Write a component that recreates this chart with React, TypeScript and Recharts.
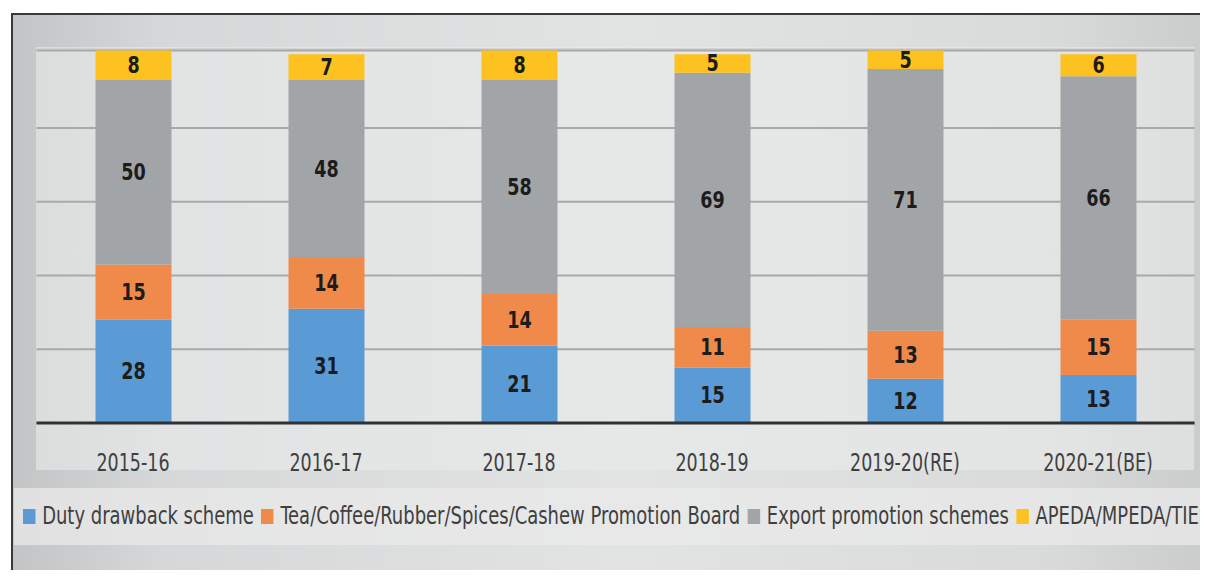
import {
  BarChart,
  Bar,
  XAxis,
  YAxis,
  CartesianGrid,
  LabelList,
  Legend,
} from "recharts";

const YEARS = ["2015-16", "2016-17", "2017-18", "2018-19", "2019-20(RE)", "2020-21(BE)"];
const DUTY_DRAWBACK = [28, 31, 21, 15, 12, 13];
const COMMODITY_BOARDS = [15, 14, 14, 11, 13, 15];
const EXPORT_PROMOTION = [50, 48, 58, 69, 71, 66];
const APEDA_ETC = [8, 7, 8, 5, 5, 6];

const SERIES = [
  { key: "duty", name: "Duty drawback scheme", color: "#5b9bd5" },
  { key: "boards", name: "Tea/Coffee/Rubber/Spices/Cashew Promotion Board", color: "#f08a4b" },
  { key: "epc", name: "Export promotion schemes", color: "#a2a5a7" },
  { key: "apeda", name: "APEDA/MPEDA/TIES", color: "#fdc21f" },
];

const data = YEARS.map((year, i) => ({
  year,
  duty: DUTY_DRAWBACK[i],
  boards: COMMODITY_BOARDS[i],
  epc: EXPORT_PROMOTION[i],
  apeda: APEDA_ETC[i],
}));

const FONT = '"DejaVu Sans Condensed", "Liberation Sans Narrow", "Open Sans", sans-serif';
const SQUEEZE = 0.81; // narrow the font so it reads like the original's Calibri

function YearTick({ x, y, payload }: any) {
  return (
    <text
      transform={`translate(${x},${y + 48}) scale(${SQUEEZE},1)`}
      textAnchor="middle"
      fontSize={24}
      fill="#404040"
      fontFamily={FONT}
    >
      {payload.value}
    </text>
  );
}

function ValueLabel({ x, y, width, height, value }: any) {
  const cx = Number(x) + Number(width) / 2;
  const cy = Number(y) + Number(height) / 2;
  return (
    <text
      transform={`translate(${cx},${cy + 8}) scale(0.85,1)`}
      textAnchor="middle"
      fontSize={23}
      fontWeight="bold"
      fill="#1c1c1c"
      fontFamily={FONT}
    >
      {value}
    </text>
  );
}

function LegendRow() {
  return (
    <div
      style={{
        display: "flex",
        alignItems: "center",
        whiteSpace: "nowrap",
        fontFamily: FONT,
        fontSize: 24,
        color: "#404040",
        transform: "scaleX(0.832)",
        transformOrigin: "0 0",
      }}
    >
      {SERIES.map((s) => (
        <span key={s.key} style={{ display: "inline-flex", alignItems: "center", marginRight: 9 }}>
          <span style={{ display: "inline-block", width: 15, height: 15, background: s.color, marginRight: 8 }} />
          {s.name}
        </span>
      ))}
    </div>
  );
}

export default function App() {
  return (
    <div style={{ position: "relative", width: 1208, height: 578, margin: -8, overflow: "hidden", background: "#fff" }}>
      {/* outer frame */}
      <div
        style={{
          position: "absolute",
          left: 11,
          top: 13,
          width: 1220,
          height: 600,
          border: "2px solid #3a3a3a",
          background: "linear-gradient(90deg, #c3c4c5 0%, #d6d7d8 12%, #e2e3e3 50%, #d9dada 85%, #c8c9c9 100%)",
        }}
      />
      {/* plot and legend panels */}
      <div style={{ position: "absolute", left: 36, top: 47, width: 1158, height: 423, background: "rgba(234,235,235,0.6)" }} />
      <div style={{ position: "absolute", left: 14, top: 488, width: 1200, height: 57, background: "rgba(233,234,234,0.75)" }} />
      <div style={{ position: "absolute", left: 0, top: 0 }}>
        <BarChart
          width={1208}
          height={578}
          data={data}
          margin={{ top: 50.5, right: 13.5, bottom: 95, left: 36.5 }}
          barSize={76}
        >
          <CartesianGrid vertical={false} horizontalPoints={[49]} stroke="#d3d3d3" strokeWidth={2} />
          <CartesianGrid vertical={false} stroke="#a9a9a9" strokeWidth={2} />
          <XAxis
            dataKey="year"
            height={60}
            tickSize={0}
            tickMargin={0}
            tick={<YearTick />}
            axisLine={{ stroke: "#2f3133", strokeWidth: 3 }}
          />
          <YAxis hide domain={[0, 100]} ticks={[0, 20, 40, 60, 80]} />
          <Legend
            verticalAlign="middle"
            layout="horizontal"
            align="center"
            wrapperStyle={{ top: 502, left: 23, width: 1500 }}
            content={() => <LegendRow />}
          />
          {SERIES.map((s) => (
            <Bar key={s.key} dataKey={s.key} name={s.name} stackId="a" fill={s.color} isAnimationActive={false}>
              <LabelList dataKey={s.key} content={<ValueLabel />} />
            </Bar>
          ))}
        </BarChart>
      </div>
    </div>
  );
}
